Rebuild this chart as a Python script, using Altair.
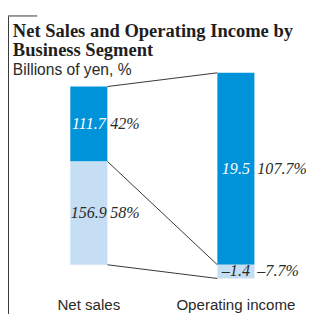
import altair as alt
import pandas as pd

categories = ["Net sales", "Operating income"]
dark_values = [111.7, 19.5]
light_values = [156.9, -1.4]
dark_pct = [42, 107.7]
light_pct = [58, -7.7]

title_lines = ["Net Sales and Operating Income by", "Business Segment"]
subtitle = "Billions of yen, %"

DARK = "#0093D9"
LIGHT = "#C6DEF4"
INK = "#2a2a2a"
SERIF = "Liberation Serif"
SANS = "Liberation Sans"
HW = 0.126  # half bar width in category-index units


def fmt_val(v):
    s = f"{abs(v):.1f}"
    return "\u2013" + s if v < 0 else s


def fmt_pct(v):
    s = f"{abs(v):g}%"
    return "\u2013" + s if v < 0 else s


rows = []
for i, cat in enumerate(categories):
    lp = light_pct[i]
    base = max(lp, 0)
    rows.append(dict(cat=cat, pos=i, seg="dark", lo=base, hi=base + dark_pct[i],
                     val=fmt_val(dark_values[i]), pct=fmt_pct(dark_pct[i])))
    rows.append(dict(cat=cat, pos=i, seg="light", lo=min(lp, 0), hi=max(lp, 0),
                     val=fmt_val(light_values[i]), pct=fmt_pct(light_pct[i])))
bars = pd.DataFrame(rows)
bars["x0"] = bars["pos"] - HW
bars["x1"] = bars["pos"] + HW
bars["mid"] = (bars["lo"] + bars["hi"]) / 2

a = bars[bars.pos == 0].set_index("seg")
b = bars[bars.pos == 1].set_index("seg")
conn = pd.DataFrame([
    dict(x=HW, x2=1 - HW, y=a.loc["dark", "hi"], y2=b.loc["dark", "hi"]),
    dict(x=HW, x2=1 - HW, y=a.loc["dark", "lo"], y2=b.loc["dark", "lo"]),
    dict(x=HW, x2=1 - HW, y=a.loc["light", "lo"], y2=b.loc["light", "lo"]),
])

cats = pd.DataFrame({"cat": categories, "pos": list(range(len(categories)))})

xs = alt.Scale(domain=[-0.5497, 1.4768], nice=False, zero=False)
ys = alt.Scale(domain=[-27.6, 141.8], nice=False, zero=False)
seg_color = alt.Scale(domain=["dark", "light"], range=[DARK, LIGHT])

rects = alt.Chart(bars).mark_rect().encode(
    x=alt.X("x0:Q", scale=xs, axis=None),
    x2="x1:Q",
    y=alt.Y("lo:Q", scale=ys, axis=None),
    y2="hi:Q",
    color=alt.Color("seg:N", scale=seg_color, legend=None),
)

lines = alt.Chart(conn).mark_rule(color="#333333", strokeWidth=1).encode(
    x=alt.X("x:Q", scale=xs, axis=None),
    x2="x2:Q",
    y=alt.Y("y:Q", scale=ys, axis=None),
    y2="y2:Q",
)

vals = alt.Chart(bars).mark_text(font=SERIF, fontSize=16.5, fontStyle="italic",
                                 align="center", baseline="middle").encode(
    x=alt.X("pos:Q", scale=xs, axis=None),
    y=alt.Y("mid:Q", scale=ys, axis=None),
    text="val:N",
    color=alt.condition(alt.datum.seg == "dark", alt.value("#ffffff"), alt.value(INK)),
)

pcts = alt.Chart(bars).mark_text(font=SERIF, fontSize=16.5, fontStyle="italic",
                                 align="left", baseline="middle", dx=3, color=INK).encode(
    x=alt.X("x1:Q", scale=xs, axis=None),
    y=alt.Y("mid:Q", scale=ys, axis=None),
    text="pct:N",
)

cat_labels = alt.Chart(cats).mark_text(font=SANS, fontSize=15.5, align="center",
                                       baseline="alphabetic", color=INK).encode(
    x=alt.X("pos:Q", scale=xs, axis=None),
    y=alt.value(306),
    text="cat:N",
)

one = pd.DataFrame({"t": [0]})

title1 = alt.Chart(one).mark_text(text=title_lines[0], font=SERIF, fontSize=19,
                                  fontWeight="bold", align="left", baseline="alphabetic",
                                  color="#1e1e1e").encode(x=alt.value(5), y=alt.value(26))
title2 = alt.Chart(one).mark_text(text=title_lines[1], font=SERIF, fontSize=19,
                                  fontWeight="bold", align="left", baseline="alphabetic",
                                  color="#1e1e1e").encode(x=alt.value(5), y=alt.value(45))
sub = alt.Chart(one).mark_text(text=subtitle, font=SANS, fontSize=16, align="left",
                               baseline="alphabetic", color=INK).encode(
    x=alt.value(5), y=alt.value(65))

frame_v = alt.Chart(one).mark_rule(color="#333333", strokeWidth=1).encode(
    x=alt.value(0.5), y=alt.value(4), y2=alt.value(310))
frame_h = alt.Chart(one).mark_rule(color="#777777", strokeWidth=1.5).encode(
    x=alt.value(0), x2=alt.value(30), y=alt.value(4))

chart = alt.layer(
    frame_v, frame_h, title1, title2, sub, lines, rects, vals, pcts, cat_labels
).properties(
    width=306, height=310, padding=0,
    autosize=alt.AutoSizeParams(type="none"),
).configure_view(stroke=None)

chart.save("out.html", embed_options={"renderer": "svg", "actions": False})
